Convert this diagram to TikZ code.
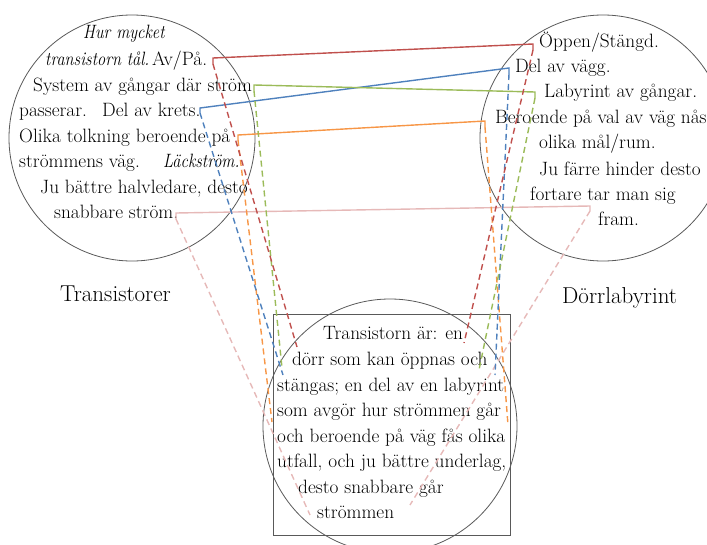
\documentclass[tikz,border=0pt]{standalone}
\usepackage{fontspec}
\definecolor{ringgray}{HTML}{595959}
\definecolor{lred}{HTML}{C0504D}
\definecolor{lblue}{HTML}{4F81BD}
\definecolor{lgreen}{HTML}{9BBB59}
\definecolor{lorange}{HTML}{F79646}
\definecolor{lpink}{HTML}{E6B9B8}
% narrower italic for the emphasised phrases
\newcommand{\emtxt}[1]{\scalebox{0.85}[1]{\itshape #1}}
\begin{document}
\begin{tikzpicture}[x=1pt,y=-1pt,
  txt/.style={anchor=base west, inner sep=0pt, font=\fontsize{19.3}{22}\selectfont},
  big/.style={anchor=base west, inner sep=0pt, font=\fontsize{23}{26}\selectfont},
  ring/.style={draw=ringgray, line width=0.8pt},
  link/.style={line width=1.4pt},
  tie/.style={line width=1.4pt, dash pattern=on 6pt off 4pt}]
\useasboundingbox (0,0) rectangle (707,544);

% circles and box
\draw[ring] (132,138) circle[radius=123pt];
\draw[ring] (603,138) circle[radius=123pt];
\draw[ring] (390,426) circle[radius=127pt];
\draw[ring] (273,314) rectangle (510,535);

% left circle: Transistorer
\node[txt] (l1) at (83,38) {\emtxt{Hur mycket}};
\node[txt] (l2) at (45,65) {\emtxt{transistorn tål.}};
\node[txt] (avpa) at (152,65) {Av/På.};
\node[txt] (l3) at (33,91) {System av gångar där ström};
\node[txt] (l4) at (19,116) {passerar.};
\node[txt] (krets) at (102,116) {Del av krets.};
\node[txt] (l5) at (19,142) {Olika tolkning beroende på};
\node[txt] (l6) at (19,167) {strömmens väg.};
\node[txt] (lacks) at (163,167) {\emtxt{Läckström.}};
\node[txt] (l7) at (40,193) {Ju bättre halvledare, desto};
\node[txt] (l8) at (54,218) {snabbare ström.};
\node[big] (tlabel) at (60,301) {Transistorer};

% right circle: Dörrlabyrint
\node[txt] (r1) at (539,47) {Öppen/Stängd.};
\node[txt] (r2) at (515,72) {Del av vägg.};
\node[txt] (r3) at (544,97) {Labyrint av gångar.};
\node[txt] (r4) at (495,123) {Beroende på val av väg nås};
\node[txt] (r5) at (539,148) {olika mål/rum.};
\node[txt] (r6) at (539,175) {Ju färre hinder desto};
\node[txt] (r7) at (530,200) {fortare tar man sig};
\node[txt] (r8) at (598,225) {fram.};
\node[big] (dlabel) at (562,303) {Dörrlabyrint};

% box text
\node[txt] (b1) at (323,339) {Transistorn är: en};
\node[txt] (b2) at (292,365) {dörr som kan öppnas och};
\node[txt] (b3) at (277,391) {stängas; en del av en labyrint};
\node[txt] (b4) at (277,416) {som avgör hur strömmen går};
\node[txt] (b5) at (277,442) {och beroende på väg fås olika};
\node[txt] (b6) at (277,467) {utfall, och ju bättre underlag,};
\node[txt] (b7) at (298,493) {desto snabbare går};
\node[txt] (b8) at (317,518) {strömmen};

% link anchor points (top of tick, bottom of tick, end in box)
\coordinate (redL) at (213,58);   \coordinate (redLt) at (213,64);
\coordinate (redR) at (533,44);   \coordinate (redRt) at (533,50);
\coordinate (redLb) at (297,347); \coordinate (redRb) at (464,343);

\coordinate (grnL) at (254,85);   \coordinate (grnLt) at (254,91);
\coordinate (grnR) at (535,92);   \coordinate (grnRt) at (535,98);
\coordinate (grnLb) at (282,368); \coordinate (grnRb) at (479,370);

\coordinate (bluL) at (200,108);  \coordinate (bluLt) at (200,113);
\coordinate (bluR) at (509,68);   \coordinate (bluRt) at (509,74);
\coordinate (bluLb) at (283,375); \coordinate (bluRb) at (495,375);

\coordinate (orgL) at (238,135);  \coordinate (orgLt) at (238,140);
\coordinate (orgR) at (485,121);  \coordinate (orgRt) at (485,127);
\coordinate (orgLb) at (272,422); \coordinate (orgRb) at (508,425);

\coordinate (pnkL) at (176,213);  \coordinate (pnkLt) at (176,219);
\coordinate (pnkR) at (590,206);  \coordinate (pnkRt) at (590,211);
\coordinate (pnkLb) at (310,515); \coordinate (pnkRb) at (410,505);

% solid links between the two circles, dashed ties into the box
\foreach \c/\col in {pnk/lpink,org/lorange,blu/lblue,grn/lgreen,red/lred}{
  \draw[link,\col] (\c Lt) -- (\c L) -- (\c R) -- (\c Rt);
  \draw[tie,\col] (\c Lt) -- (\c Lb);
  \draw[tie,\col] (\c Rt) -- (\c Rb);
}
\end{tikzpicture}
\end{document}
